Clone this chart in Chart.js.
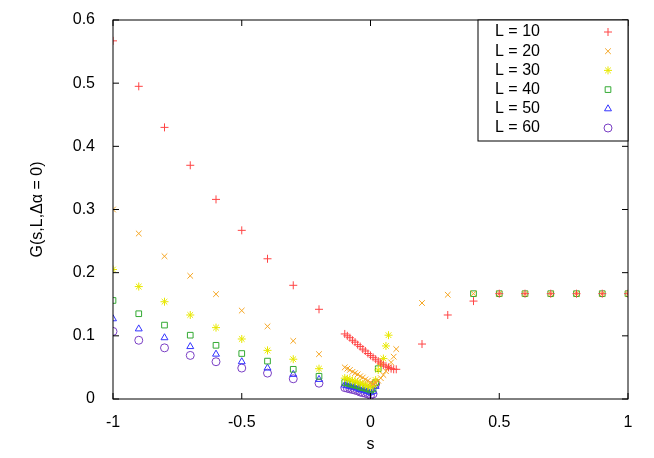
<!DOCTYPE html>
<html><head><meta charset="utf-8">
<script src="https://cdn.jsdelivr.net/npm/chart.js@4"></script>
<style>html,body{margin:0;background:#fff}#w{width:654px;height:458px}</style>
</head><body><div id="w"><canvas id="c"></canvas></div>
<script>
const labels = ["L = 10","L = 20","L = 30","L = 40","L = 50","L = 60"];
const xTicks = [-1,-0.5,0,0.5,1];
const yTicks = [0,0.1,0.2,0.3,0.4,0.5,0.6];
const sparseS = [-1,-0.9,-0.8,-0.7,-0.6,-0.5,-0.4,-0.3,-0.2];
const denseS = [-0.1,-0.09,-0.08,-0.07,-0.06,-0.05,-0.04,-0.03,-0.02,-0.01,0];
const rightS = [0.4,0.5,0.6,0.7,0.8,0.9,1];

const s10 = [...sparseS, ...denseS, 0.01,0.02,0.03,0.04,0.05,0.06,0.07,0.08,0.09,0.1,0.2,0.3, ...rightS];
const g10 = [0.567,0.495,0.430,0.370,0.316,0.267,0.222,0.180,0.142,
  0.103,0.100,0.097,0.093,0.090,0.086,0.083,0.079,0.076,0.072,0.069,
  0.066,0.063,0.060,0.057,0.054,0.052,0.050,0.048,0.047,0.047,0.087,0.133,
  0.155,0.1667,0.1667,0.1667,0.1667,0.1667,0.1667];
const s20 = [...sparseS, ...denseS, 0.01,0.02,0.03,0.04,0.05,0.06,0.07,0.08,0.09,0.1,0.2,0.3, ...rightS];
const g20 = [0.300,0.262,0.226,0.195,0.166,0.140,0.115,0.092,0.071,
  0.050,0.048,0.046,0.043,0.041,0.039,0.036,0.034,0.031,0.029,0.026,
  0.024,0.026,0.029,0.033,0.038,0.044,0.050,0.058,0.067,0.079,0.152,0.165,
  0.1667,0.1667,0.1667,0.1667,0.1667,0.1667,0.1667];
const s30 = [...sparseS, ...denseS, 0.01,0.02,0.03,0.04,0.05,0.06,0.07];
const g30 = [0.205,0.178,0.154,0.133,0.113,0.095,0.077,0.063,0.048,
  0.033,0.032,0.031,0.029,0.028,0.027,0.025,0.024,0.022,0.021,0.019,
  0.022,0.030,0.046,0.055,0.064,0.084,0.101];
const s40 = [...sparseS, ...denseS, 0.01,0.02,0.03, ...rightS];
const g40 = [0.156,0.135,0.117,0.101,0.085,0.072,0.060,0.047,0.036,
  0.026,0.025,0.024,0.023,0.022,0.021,0.019,0.018,0.017,0.016,0.014,
  0.016,0.026,0.048,
  0.1667,0.1667,0.1667,0.1667,0.1667,0.1667,0.1667];
const s50 = [...sparseS, ...denseS, 0.01,0.02];
const g50 = [0.127,0.111,0.097,0.083,0.071,0.059,0.049,0.039,0.031,
  0.022,0.021,0.020,0.019,0.018,0.017,0.015,0.014,0.013,0.012,0.010,
  0.012,0.020];
const s60 = [...sparseS, ...denseS, 0.01,0.02];
const g60 = [0.107,0.093,0.081,0.069,0.059,0.049,0.041,0.032,0.025,
  0.018,0.017,0.016,0.015,0.014,0.013,0.011,0.010,0.009,0.008,0.006,
  0.008,0.024];

const S=[s10,s20,s30,s40,s50,s60], G=[g10,g20,g30,g40,g50,g60];
const colors=["#f44","#f5a623","#e8e800","#3a3","#33f","#7a3fc4"];
const styles=["cross","crossRot","star","rect","triangle","circle"];
const FONT="'Liberation Sans', Arial, sans-serif";

const datasets=labels.map((l,i)=>({label:l,data:S[i].map((x,j)=>({x,y:G[i][j]})),
  showLine:false,pointStyle:styles[i],pointRadius:4,pointBorderWidth:1,
  borderColor:colors[i],backgroundColor:'rgba(0,0,0,0)',pointBackgroundColor:'rgba(0,0,0,0)'}));

const frame={id:'frame',afterDatasetsDraw(ch){
  const {ctx,chartArea:a,scales:{x,y}}=ch;
  ctx.save();ctx.strokeStyle='#000';ctx.lineWidth=1;
  ctx.strokeRect(a.left,a.top,a.right-a.left,a.bottom-a.top);
  ctx.beginPath();
  xTicks.forEach(v=>{const p=x.getPixelForValue(v);ctx.moveTo(p,a.bottom);ctx.lineTo(p,a.bottom-6);ctx.moveTo(p,a.top);ctx.lineTo(p,a.top+6);});
  yTicks.forEach(v=>{const p=y.getPixelForValue(v);ctx.moveTo(a.left,p);ctx.lineTo(a.left+6,p);ctx.moveTo(a.right,p);ctx.lineTo(a.right-6,p);});
  ctx.stroke();
  const lx=478,ly=a.top,lw=a.right-lx,lh=121;
  ctx.fillStyle='#fff';ctx.fillRect(lx,ly,lw,lh);ctx.strokeRect(lx,ly,lw,lh);
  ctx.font='16px '+FONT;ctx.textBaseline='middle';ctx.textAlign='left';
  labels.forEach((l,i)=>{const yy=ly+12+i*19.2;ctx.fillStyle='#000';ctx.fillText(l,lx+17,yy);
    ctx.strokeStyle=colors[i];ctx.fillStyle='rgba(0,0,0,0)';ctx.lineWidth=1;
    Chart.helpers.drawPoint(ctx,{pointStyle:styles[i],radius:4,borderWidth:1},lx+lw-20,yy);});
  ctx.restore();}};

new Chart(document.getElementById('c'),{type:'scatter',data:{datasets},plugins:[frame],
 options:{animation:false,responsive:true,maintainAspectRatio:false,devicePixelRatio:1,
  layout:{padding:{top:20,right:26,left:24,bottom:0}},
  plugins:{legend:{display:false},tooltip:{enabled:false}},
  scales:{
   x:{type:'linear',min:-1,max:1,afterFit(s){s.height=59;},
      afterBuildTicks(s){s.ticks=xTicks.map(v=>({value:v}));},
      grid:{display:false},border:{display:false},
      ticks:{color:'#000',font:{family:FONT,size:16},padding:6,maxRotation:0,callback:v=>String(v)},
      title:{display:true,text:'s',color:'#000',font:{family:FONT,size:16},padding:{top:4}}},
   y:{min:0,max:0.6,afterFit(s){s.width=89;},
      afterBuildTicks(s){s.ticks=yTicks.map(v=>({value:v}));},
      grid:{display:false},border:{display:false},
      ticks:{color:'#000',font:{family:FONT,size:16},padding:10,callback:v=>String(v)},
      title:{display:true,text:'G(s,L,Δα = 0)',color:'#000',font:{family:FONT,size:16},padding:{bottom:4}}}}}});
</script></body></html>
